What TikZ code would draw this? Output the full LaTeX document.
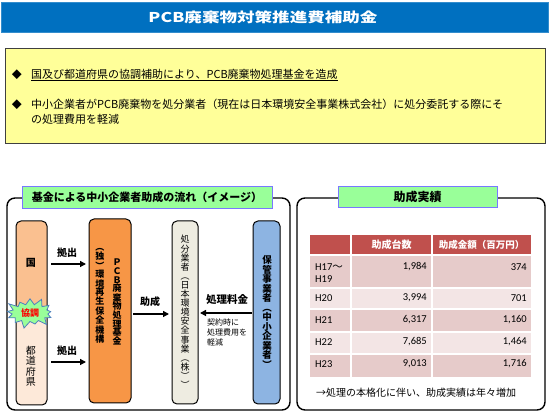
\documentclass[tikz,border=0pt]{standalone}
\usepackage{fontspec}
\setmainfont{Noto Sans CJK JP}
\newfontfamily\titlefont{Noto Sans CJK JP}[FakeStretch=1.3]
\newfontfamily\numfont{Carlito}
\usetikzlibrary{arrows.meta,shapes.symbols,calc}
\definecolor{titleblue}{RGB}{0,112,192}
\definecolor{yel}{RGB}{255,255,153}
\definecolor{tabgreen}{RGB}{153,255,153}
\definecolor{tabblue}{RGB}{120,120,255}
\definecolor{kunitop}{RGB}{250,192,144}
\definecolor{kunibot}{RGB}{253,233,217}
\definecolor{fundor}{RGB}{247,150,70}
\definecolor{beige}{RGB}{238,236,225}
\definecolor{bluebox}{RGB}{141,180,226}
\definecolor{thead}{RGB}{192,80,77}
\definecolor{rowdark}{RGB}{230,203,202}
\definecolor{rowlight}{RGB}{243,229,229}
\definecolor{burst}{RGB}{153,255,153}
\definecolor{burstb}{RGB}{79,129,189}
\tikzset{
  panel/.style={draw=black, line width=1.4pt, rounded corners=8pt, inner sep=0pt},
  tab/.style={draw=tabblue, fill=tabgreen, line width=0.8pt, inner sep=0pt, font=\bfseries\fontsize{11}{13}\selectfont},
  colbox/.style={draw=black, line width=1pt, rounded corners=5pt, inner sep=0pt},
  vtxt/.style={align=center, inner sep=0pt},
  lbl/.style={font=\bfseries\fontsize{10}{12}\selectfont, inner sep=0pt},
  arr/.style={line width=1.3pt, -{Triangle[length=6pt,width=6pt]}},
  cell/.style={inner sep=0pt, font=\numfont\fontsize{10.5}{12}\selectfont}
}
\begin{document}
\begin{tikzpicture}[x=1pt,y=-1pt]
\useasboundingbox (0,0) rectangle (550,417);
\fill[white] (0,0) rectangle (550,417);

% title
\node[fill=titleblue, draw=titleblue!80!white, minimum width=547pt, minimum height=30pt, inner sep=0pt] (title) at (274.5,17) {};
\node[text=white, inner sep=0pt, font=\titlefont\bfseries\fontsize{13.5}{15}\selectfont] (titletext) at (263,17) {PCB廃棄物対策推進費補助金};

% yellow box
\node[fill=yel, draw=black!75, line width=0.8pt, minimum width=540pt, minimum height=95pt, inner sep=0pt] (ybox) at (275,95.5) {};
\node[inner sep=0pt, font=\fontsize{10}{12}\selectfont] (d1) at (17,75) {◆};
\node[anchor=west, inner sep=0pt, font=\fontsize{11}{13}\selectfont] (b1) at (31,75) {\underline{国及び都道府県の協調補助により、PCB廃棄物処理基金を造成}};
\node[inner sep=0pt, font=\fontsize{10}{12}\selectfont] (d2) at (17,105) {◆};
\node[anchor=north west, inner sep=0pt, align=left, font=\fontsize{11}{15}\selectfont] (b2) at (31,98.5) {中小企業者がPCB廃棄物を処分業者（現在は日本環境安全事業株式会社）に処分委託する際にそ\\の処理費用を軽減};

% panels
\node[panel, minimum width=283pt, minimum height=212pt] (lp) at (148.5,304) {};
\node[panel, minimum width=248pt, minimum height=212pt] (rp) at (421,304) {};
\node[tab, minimum width=250pt, minimum height=22pt] (ltab) at (147,197) {基金による中小企業者助成の流れ（イメージ）};
\node[tab, minimum width=159pt, minimum height=21pt, font=\bfseries\fontsize{12}{14}\selectfont] (rtab) at (417.5,197) {助成実績};

% kuni / todofuken column
\begin{scope}
\clip[rounded corners=5pt] (16,221) rectangle (47,405);
\fill[kunitop] (16,221) rectangle (47,315);
\fill[kunibot] (16,315) rectangle (47,405);
\end{scope}
\node[colbox, minimum width=31pt, minimum height=184pt] (col) at (31.5,313) {};
\node[lbl] (kuni) at (31,263) {国};
\node[vtxt, font=\fontsize{10}{10.5}\selectfont] (todo) at (31,366) {都\\道\\府\\県};
\node[starburst, starburst points=13, starburst point height=8pt, fill=burst, draw=burstb, line width=0.8pt, minimum width=52pt, minimum height=33pt, inner sep=0pt, text=red, font=\bfseries\fontsize{9}{10}\selectfont] (kyocho) at (30,313) {協調};

% fund
\node[colbox, fill=fundor, minimum width=42pt, minimum height=184pt] (fund) at (110,311) {};
\node[vtxt, font=\bfseries\fontsize{9}{8.6}\selectfont] (fundA) at (117,302) {Ｐ\\Ｃ\\Ｂ\\廃\\棄\\物\\処\\理\\基\\金};
\node[vtxt, font=\bfseries\fontsize{9}{8.2}\selectfont] (fundB) at (100,296) {︵\\独\\︶\\環\\境\\再\\生\\保\\全\\機\\構};

% disposer
\node[colbox, fill=beige, minimum width=26pt, minimum height=183pt] (disp) at (185,312.5) {};
\node[vtxt, font=\fontsize{9}{9.1}\selectfont] (dispT) at (185,312) {処\\分\\業\\者\\︵\\日\\本\\環\\境\\安\\全\\事\\業\\︵\\株\\︶\\︶};

% holder
\node[colbox, fill=bluebox, minimum width=27pt, minimum height=183pt] (hold) at (266.5,312.5) {};
\node[vtxt, font=\bfseries\fontsize{9.5}{9.5}\selectfont] (holdT) at (267,312) {保\\管\\事\\業\\者\\︵\\中\\小\\企\\業\\者\\︶};

% arrows and labels
\coordinate (a1s) at (51,264); \coordinate (a1e) at (86,264);
\coordinate (a2s) at (51,362); \coordinate (a2e) at (86,362);
\coordinate (a3s) at (133,314); \coordinate (a3e) at (169,314);
\coordinate (a4s) at (252,313); \coordinate (a4e) at (200,313);
\draw[arr] (a1s) -- (a1e);
\draw[arr] (a2s) -- (a2e);
\draw[arr] (a3s) -- (a3e);
\draw[arr] (a4s) -- (a4e);
\node[lbl] (l1) at (67,253) {拠出};
\node[lbl] (l2) at (67,351) {拠出};
\node[lbl] (l3) at (150,302) {助成};
\node[lbl, font=\bfseries\fontsize{10.5}{12}\selectfont] (l4) at (227,300) {処理料金};
\node[anchor=north west, inner sep=0pt, align=left, font=\fontsize{8}{9.6}\selectfont] (l5) at (207,319) {契約時に\\処理費用を\\軽減};

% table
\fill[thead] (310,235) rectangle (531,255);
\fill[rowdark] (310,255) rectangle (531,288);
\fill[rowlight] (310,288) rectangle (531,309);
\fill[rowdark] (310,309) rectangle (531,332);
\fill[rowlight] (310,332) rectangle (531,354);
\fill[rowdark] (310,354) rectangle (531,377);
\draw[white, line width=1.2pt] (351,235) -- (351,377) (432,235) -- (432,377)
  (310,255) -- (531,255) (310,288) -- (531,288) (310,309) -- (531,309) (310,332) -- (531,332) (310,354) -- (531,354);
\node[inner sep=0pt, text=white, font=\bfseries\fontsize{10}{12}\selectfont] (h1) at (391.5,245) {助成台数};
\node[inner sep=0pt, text=white, font=\bfseries\fontsize{9.5}{12}\selectfont] (h2) at (481.5,245) {助成金額（百万円）};
\node[cell, anchor=west] (r1a) at (315,267) {H17{\rmfamily～}};
\node[cell, anchor=west] (r1b) at (315,279) {H19};
\node[cell, anchor=east] (r1c) at (427,267) {1,984};
\node[cell, anchor=east] (r1d) at (527,267) {374};
\node[cell, anchor=west] (r2a) at (315,298) {H20};
\node[cell, anchor=east] (r2c) at (427,298) {3,994};
\node[cell, anchor=east] (r2d) at (527,298) {701};
\node[cell, anchor=west] (r3a) at (315,320) {H21};
\node[cell, anchor=east] (r3c) at (427,320) {6,317};
\node[cell, anchor=east] (r3d) at (527,320) {1,160};
\node[cell, anchor=west] (r4a) at (315,342) {H22};
\node[cell, anchor=east] (r4c) at (427,342) {7,685};
\node[cell, anchor=east] (r4d) at (527,342) {1,464};
\node[cell, anchor=west] (r5a) at (315,364) {H23};
\node[cell, anchor=east] (r5c) at (427,364) {9,013};
\node[cell, anchor=east] (r5d) at (527,364) {1,716};
\node[anchor=west, inner sep=0pt, font=\fontsize{10}{12}\selectfont] (foot) at (316,393) {→処理の本格化に伴い、助成実績は年々増加};
\end{tikzpicture}
\end{document}
